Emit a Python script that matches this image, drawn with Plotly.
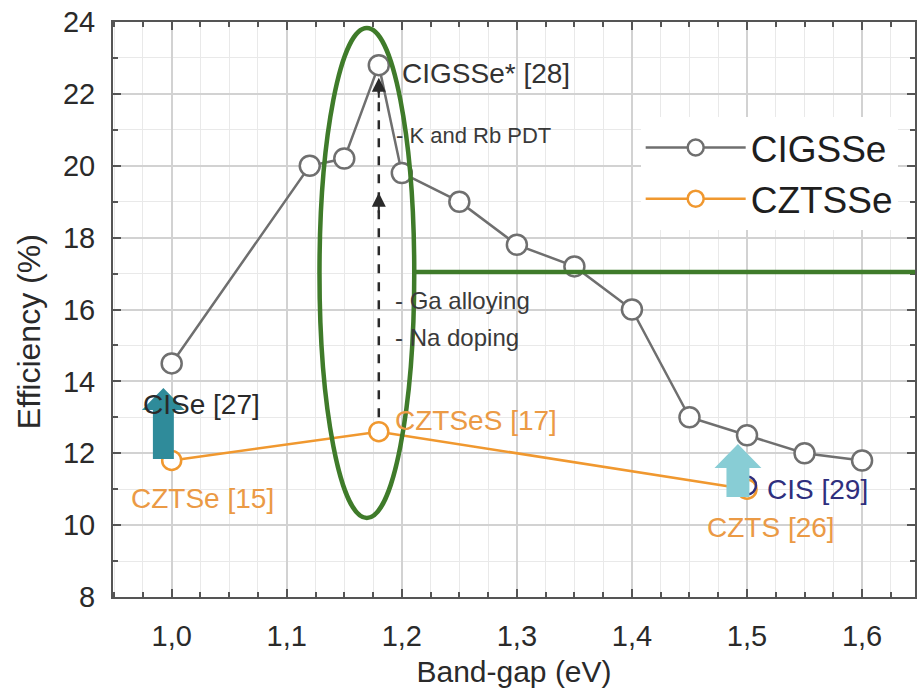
import plotly.graph_objects as go

# Band-gap (eV) and record efficiency (%) for each absorber family
cigsse_gap = [1.00, 1.12, 1.15, 1.18, 1.20, 1.25, 1.30, 1.35, 1.40, 1.45, 1.50, 1.55, 1.60]
cigsse_eff = [14.5, 20.0, 20.2, 22.8, 19.8, 19.0, 17.8, 17.2, 16.0, 13.0, 12.5, 12.0, 11.8]

czts_gap = [1.00, 1.18, 1.50]
czts_eff = [11.8, 12.6, 11.0]

cis_gap = [1.50]
cis_eff = [11.1]

# Improvement steps shown along the dashed arrow at the CIGSSe record gap
step_gap = 1.18
step_from = 13.0
step_mid = 19.25
step_top = 22.45

x_ticks = [1.0, 1.1, 1.2, 1.3, 1.4, 1.5, 1.6]
y_ticks = [8, 10, 12, 14, 16, 18, 20, 22, 24]

GRAY = "#6f6f6f"
ORANGE = "#f0982f"
ORANGE_TXT = "#eb9a45"
NAVY = "#2f2f7e"
GREEN = "#3f7b2a"
TEAL = "#2f8b9a"
CYAN = "#88cdd5"
FONT = "Arial, Liberation Sans, sans-serif"

W, H = 917, 691
L, R, T, B = 113, 917, 22, 597
X0, X1 = 0.949, 1.646
Y0, Y1 = 8, 24


def dx(px):
    return X0 + (px - L) / (R - L) * (X1 - X0)


def dy(py):
    return Y1 - (py - T) / (B - T) * (Y1 - Y0)


fig = go.Figure()

fig.add_trace(go.Scatter(
    x=cigsse_gap, y=cigsse_eff, name="CIGSSe", mode="lines+markers",
    line=dict(color=GRAY, width=2.5),
    marker=dict(symbol="circle", size=20, color="white",
                line=dict(color=GRAY, width=2.5)),
))
fig.add_trace(go.Scatter(
    x=czts_gap, y=czts_eff, name="CZTSSe", mode="lines+markers",
    line=dict(color=ORANGE, width=2.5),
    marker=dict(symbol="circle", size=19, color="white",
                line=dict(color=ORANGE, width=2.5)),
))
fig.add_trace(go.Scatter(
    x=cis_gap, y=cis_eff, name="CIS", mode="markers", showlegend=False,
    marker=dict(symbol="circle", size=18, color="rgba(255,255,255,0)",
                line=dict(color=NAVY, width=2.5)),
))

shapes = []
# dashed improvement path
shapes.append(dict(type="line", xref="x", yref="y",
                   x0=step_gap, x1=step_gap, y0=step_from, y1=step_top - 0.3,
                   line=dict(color="#2a2a2a", width=2.5, dash="dash"), layer="above"))
# green highlight ellipse and line
shapes.append(dict(type="circle", xref="x", yref="y",
                   x0=dx(320), x1=dx(415), y0=dy(518), y1=dy(28),
                   line=dict(color=GREEN, width=4.5), layer="above"))
shapes.append(dict(type="line", xref="x", yref="y",
                   x0=dx(415), x1=X1, y0=dy(272), y1=dy(272),
                   line=dict(color=GREEN, width=4.5), layer="above"))


def up_arrow(cx, bottom, base, tip, half_shaft, half_head, color):
    pts = [(cx - half_shaft, bottom), (cx - half_shaft, base), (cx - half_head, base),
           (cx, tip), (cx + half_head, base), (cx + half_shaft, base),
           (cx + half_shaft, bottom)]
    path = "M " + " L ".join(f"{dx(px):.5f},{dy(py):.5f}" for px, py in pts) + " Z"
    return dict(type="path", xref="x", yref="y", path=path,
                fillcolor=color, line=dict(width=0), layer="above")


shapes.append(up_arrow(163.5, 459, 410, 388, 10.5, 21.5, TEAL))
shapes.append(up_arrow(739.5, 497, 468, 444, 11.5, 23.5, CYAN))

annotations = []
# arrow heads on the dashed path
for tip in (step_mid, step_top):
    annotations.append(dict(x=step_gap, y=tip, ax=step_gap, ay=tip - 0.6,
                            xref="x", yref="y", axref="x", ayref="y",
                            text="", showarrow=True, arrowhead=2, arrowsize=1.4,
                            arrowwidth=2, arrowcolor="#2a2a2a"))


def label(x, y, text, color, size, xs, ys):
    annotations.append(dict(x=x, y=y, xref="x", yref="y", text=text,
                            showarrow=False, xanchor="left", yanchor="middle",
                            xshift=xs, yshift=ys,
                            font=dict(family=FONT, size=size, color=color)))


label(cigsse_gap[3], cigsse_eff[3], "CIGSSe* [28]", "#333333", 28, 21, -8)
label(cigsse_gap[0], cigsse_eff[0], "CISe [27]", "#2a2a2a", 28, -31, -41)
label(czts_gap[0], czts_eff[0], "CZTSe [15]", ORANGE_TXT, 28, -43, -38)
label(czts_gap[1], czts_eff[1], "CZTSeS [17]", ORANGE_TXT, 28, 14, 11)
label(czts_gap[2], czts_eff[2], "CZTS [26]", ORANGE_TXT, 28, -42, -38)
label(cis_gap[0], cis_eff[0], "CIS [29]", NAVY, 28, 18, -4)
label(step_gap, dy(135), "- K and Rb PDT", "#3a3a3a", 22, 15, 0)
label(step_gap, dy(300), "- Ga alloying", "#3a3a3a", 24, 14, 0)
label(step_gap, dy(337), "- Na doping", "#3a3a3a", 24, 14, 0)

# y-axis title
annotations.append(dict(xref="paper", yref="paper", text="Efficiency (%)",
                        x=(29 - L) / (R - L), y=(B - 332) / (B - T),
                        xanchor="center", yanchor="middle",
                        showarrow=False, textangle=-90,
                        font=dict(family=FONT, size=32, color="#2a2a2a")))

axis_common = dict(
    showline=True, linecolor="#555555", linewidth=2, mirror="ticks",
    ticks="inside", ticklen=8, tickwidth=1.5, tickcolor="#555555",
    showgrid=True, gridcolor="#d2d2d2", gridwidth=1.5, zeroline=False,
    tickfont=dict(family=FONT, size=29, color="#2a2a2a"),
)

fig.update_layout(
    width=W, height=H,
    margin=dict(l=L, r=W - R, t=T, b=H - B, pad=0),
    paper_bgcolor="white", plot_bgcolor="white",
    separators=",.",
    font=dict(family=FONT, color="#2a2a2a"),
    xaxis=dict(range=[X0, X1], tickvals=x_ticks, tickformat=".1f",
               minor=dict(dtick=0.025, tick0=1.0, ticks="inside", ticklen=5, tickcolor="#555555",
                          showgrid=True, gridcolor="#e9e9e9", gridwidth=1),
               ticklabelstandoff=12,
               title=dict(text="Band-gap (eV)", font=dict(family=FONT, size=30, color="#2a2a2a"),
                          standoff=10),
               **axis_common),
    yaxis=dict(range=[Y0, Y1], tickvals=y_ticks,
               minor=dict(dtick=1, tick0=8, ticks="inside", ticklen=5, tickcolor="#555555",
                          showgrid=True, gridcolor="#e9e9e9", gridwidth=1),
               ticklabelstandoff=10,
               **axis_common),
    legend=dict(x=(642 - L) / (R - L), y=(B - 117) / (B - T), xanchor="left", yanchor="top",
                bgcolor="white", borderwidth=0, font=dict(family=FONT, size=37, color="#1e1e1e"),
                tracegroupgap=0, itemwidth=100),
    shapes=shapes,
    annotations=annotations,
    showlegend=True,
)

fig.write_html("out.html")
